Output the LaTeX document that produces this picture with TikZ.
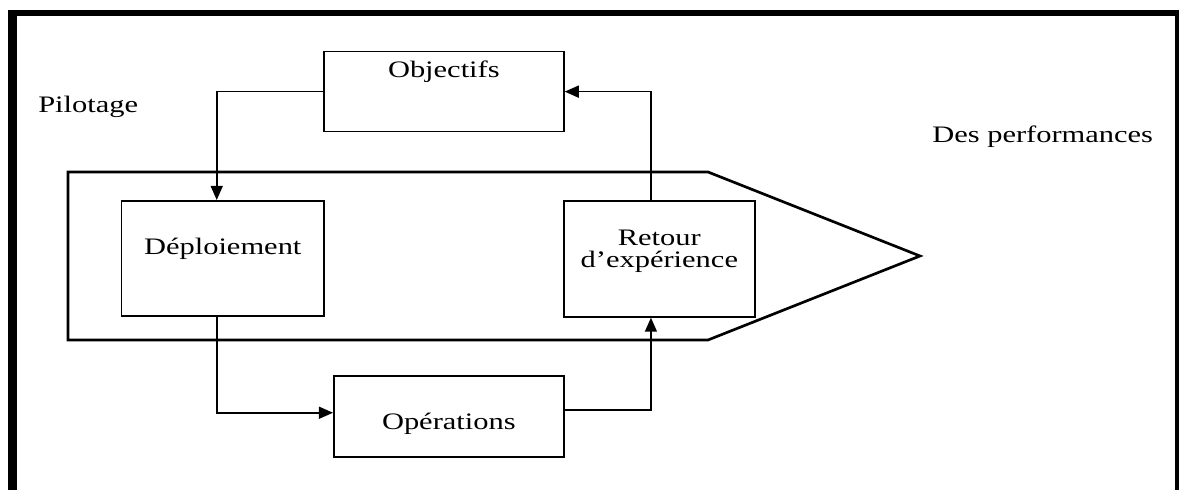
\documentclass[tikz,border=0pt]{standalone}
\usepackage{fontspec}
\setmainfont{Liberation Serif}[FakeStretch=1.29]
\usetikzlibrary{arrows.meta}

\begin{document}
\begin{tikzpicture}[
  bloc/.style={draw,line width=1.2pt,inner sep=0pt,align=center,anchor=north west,font=\fontsize{16.8}{15.5}\selectfont},
  txt/.style={inner sep=0pt,anchor=base west,font=\fontsize{16.8}{15.5}\selectfont},
  fl/.style={line width=1.2pt,-{Triangle[length=10pt,width=8.5pt]}}
]
%\draw[thin,gray] (0,0) grid (29,12);
\useasboundingbox (0,0) rectangle (29.5,12.25);

% cadre
\draw[line width=5.9pt] (0.31,0)--(0.31,11.93);
\draw[line width=4pt] (0.21,11.93)--(29.47,11.93);
\draw[line width=2.8pt] (29.425,11.93)--(29.425,0);

% navire
\draw[line width=1.9pt] (1.7,7.95)--(17.7,7.95)--(23.0,5.85)--(17.7,3.75)--(1.7,3.75)--cycle;

\node[bloc,text width=6cm,text height=0.65cm,text depth=1.35cm] (obj) at (8.075,10.98) {Objectifs};
\node[bloc,text width=5.055cm,text height=1.33cm,text depth=1.545cm] (dep) at (3.02,7.25) {Déploiement};
\node[bloc,text width=4.775cm,text height=1.12cm,text depth=1.78cm] (ret) at (14.075,7.25) {Retour\\d’expérience};
\node[bloc,text width=5.75cm,text height=1.35cm,text depth=0.675cm] (ops) at (8.325,2.875) {Opérations};

\node[txt] (pil) at (0.95,9.425) {Pilotage};
\node[txt] (perf) at (23.3,8.675) {Des performances};

\draw[fl] (obj.west) -| ([xshift=-0.15cm]dep.north);
\draw[fl] ([xshift=-0.15cm]dep.south) |- ([yshift=0.09cm]ops.west);
\draw[fl] ([yshift=0.16cm]ops.east) -| ([xshift=-0.21cm]ret.south);
\draw[fl] ([xshift=-0.21cm]ret.north) |- (obj.east);

\end{tikzpicture}
\end{document}
